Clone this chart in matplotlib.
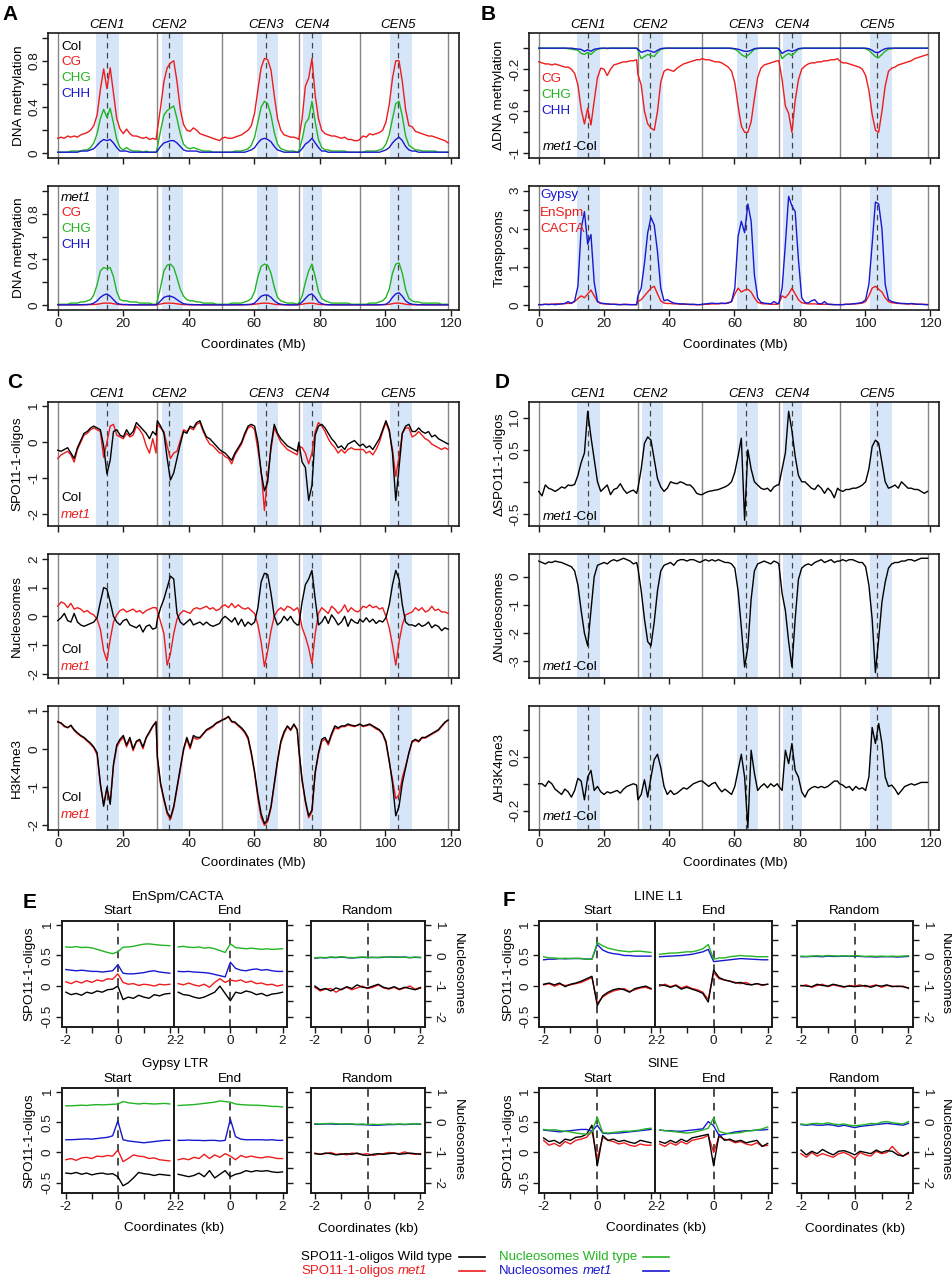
import numpy as np
import matplotlib
matplotlib.use("Agg")
import matplotlib.pyplot as plt
from matplotlib.lines import Line2D

plt.rcParams['font.family'] = ['Liberation Sans', 'DejaVu Sans']
plt.rcParams['axes.unicode_minus'] = False

# ---------------- genome layout ----------------
chrom_offsets = [0.0, 30.4, 50.1, 73.6, 92.2]
chrom_bounds = [0.0, 30.4, 50.1, 73.6, 92.2, 119.2]
cen_pos = [15.1, 34.0, 63.6, 77.5, 103.8]
cen_names = ['CEN1', 'CEN2', 'CEN3', 'CEN4', 'CEN5']
peri_start = [11.8, 31.8, 60.7, 74.9, 101.4]
peri_end = [18.7, 38.2, 67.3, 80.7, 108.2]
genome_ticks = [0, 20, 40, 60, 80, 100, 120]

# ---------------- A: DNA methylation (per chromosome, 1 Mb steps) ----------------
col_cg = [
    [0.13,0.14,0.13,0.15,0.14,0.15,0.14,0.16,0.17,0.18,0.2,0.24,0.33,0.55,0.73,0.56,0.74,0.52,0.3,0.21,0.17,0.21,0.17,0.15,0.15,0.14,0.13,0.14,0.12,0.13,0.12],
    [0.2,0.4,0.62,0.74,0.78,0.8,0.62,0.38,0.25,0.2,0.19,0.22,0.2,0.17,0.16,0.15,0.14,0.13,0.12,0.11],
    [0.13,0.14,0.13,0.13,0.14,0.15,0.16,0.18,0.2,0.24,0.35,0.55,0.74,0.82,0.81,0.72,0.5,0.3,0.2,0.16,0.15,0.14,0.14,0.13],
    [0.12,0.3,0.58,0.65,0.82,0.5,0.3,0.2,0.17,0.16,0.15,0.15,0.14,0.13,0.14,0.12,0.12,0.11,0.11],
    [0.12,0.15,0.14,0.17,0.16,0.17,0.18,0.2,0.27,0.42,0.65,0.8,0.8,0.62,0.38,0.24,0.23,0.19,0.18,0.17,0.16,0.15,0.15,0.14,0.13,0.12,0.11,0.09]]
col_chg = [
    [0.01,0.01,0.01,0.01,0.02,0.02,0.02,0.02,0.03,0.03,0.05,0.09,0.17,0.3,0.38,0.31,0.39,0.26,0.12,0.05,0.03,0.05,0.03,0.02,0.02,0.02,0.01,0.02,0.01,0.01,0.01],
    [0.05,0.2,0.33,0.37,0.39,0.41,0.3,0.17,0.08,0.05,0.04,0.05,0.04,0.03,0.02,0.02,0.02,0.01,0.01,0.01],
    [0.01,0.01,0.01,0.01,0.02,0.02,0.02,0.03,0.04,0.07,0.14,0.27,0.4,0.45,0.43,0.33,0.18,0.08,0.04,0.03,0.02,0.02,0.02,0.01],
    [0.02,0.12,0.26,0.3,0.45,0.27,0.12,0.05,0.03,0.03,0.02,0.02,0.02,0.02,0.02,0.01,0.01,0.01,0.01],
    [0.01,0.01,0.02,0.02,0.02,0.02,0.03,0.04,0.08,0.16,0.3,0.43,0.45,0.32,0.15,0.07,0.05,0.03,0.03,0.02,0.02,0.02,0.02,0.02,0.01,0.01,0.01,0.01]]
col_chh = [
    [0.01,0.01,0.01,0.01,0.01,0.01,0.01,0.02,0.02,0.02,0.03,0.04,0.07,0.1,0.12,0.11,0.12,0.09,0.05,0.02,0.02,0.02,0.01,0.01,0.01,0.01,0.01,0.01,0.01,0.01,0.01],
    [0.02,0.06,0.09,0.1,0.11,0.11,0.09,0.06,0.03,0.02,0.02,0.02,0.02,0.01,0.01,0.01,0.01,0.01,0.01,0.01],
    [0.01,0.01,0.01,0.01,0.01,0.01,0.01,0.01,0.02,0.03,0.05,0.09,0.12,0.13,0.12,0.1,0.06,0.03,0.02,0.01,0.01,0.01,0.01,0.01],
    [0.01,0.04,0.08,0.1,0.13,0.09,0.05,0.02,0.02,0.01,0.01,0.01,0.01,0.01,0.01,0.01,0.01,0.01,0.01],
    [0.01,0.01,0.01,0.01,0.01,0.01,0.01,0.02,0.03,0.05,0.09,0.12,0.14,0.11,0.06,0.03,0.02,0.02,0.01,0.01,0.01,0.01,0.01,0.01,0.01,0.01,0.01,0.01]]
met1_cg = [
    [0.005,0.005,0.005,0.005,0.005,0.005,0.005,0.005,0.005,0.006,0.007,0.008,0.01,0.015,0.02,0.02,0.02,0.015,0.01,0.007,0.006,0.006,0.005,0.005,0.005,0.005,0.005,0.005,0.005,0.005,0.005],
    [0.008,0.012,0.018,0.02,0.02,0.018,0.014,0.01,0.007,0.006,0.005,0.005,0.005,0.005,0.005,0.005,0.005,0.005,0.005,0.005],
    [0.005,0.005,0.005,0.005,0.005,0.005,0.005,0.005,0.006,0.007,0.01,0.014,0.018,0.02,0.019,0.016,0.01,0.007,0.006,0.005,0.005,0.005,0.005,0.005],
    [0.006,0.01,0.016,0.018,0.02,0.015,0.01,0.007,0.006,0.005,0.005,0.005,0.005,0.005,0.005,0.005,0.005,0.005,0.005],
    [0.005,0.005,0.005,0.005,0.005,0.005,0.005,0.006,0.007,0.01,0.015,0.02,0.02,0.016,0.01,0.007,0.006,0.005,0.005,0.005,0.005,0.005,0.005,0.005,0.005,0.005,0.005,0.005]]
met1_chg = [
    [0.01,0.01,0.01,0.01,0.02,0.02,0.02,0.03,0.03,0.04,0.05,0.09,0.18,0.3,0.33,0.32,0.33,0.25,0.12,0.05,0.04,0.04,0.03,0.03,0.03,0.02,0.02,0.02,0.02,0.01,0.01],
    [0.04,0.16,0.3,0.35,0.36,0.33,0.24,0.14,0.08,0.05,0.04,0.04,0.03,0.03,0.02,0.02,0.02,0.02,0.01,0.01],
    [0.01,0.01,0.01,0.02,0.02,0.02,0.02,0.03,0.04,0.06,0.12,0.25,0.34,0.36,0.35,0.28,0.16,0.07,0.04,0.03,0.02,0.02,0.02,0.01],
    [0.02,0.08,0.2,0.3,0.36,0.25,0.12,0.06,0.04,0.03,0.02,0.02,0.02,0.02,0.02,0.02,0.01,0.01,0.01],
    [0.01,0.01,0.01,0.02,0.02,0.02,0.03,0.04,0.07,0.14,0.28,0.36,0.37,0.28,0.14,0.06,0.04,0.03,0.03,0.02,0.02,0.02,0.02,0.02,0.02,0.01,0.01,0.01]]
met1_chh = [
    [0.005,0.005,0.005,0.005,0.005,0.005,0.006,0.006,0.007,0.008,0.01,0.02,0.04,0.07,0.09,0.1,0.08,0.05,0.02,0.01,0.008,0.008,0.006,0.006,0.005,0.005,0.005,0.005,0.005,0.005,0.005],
    [0.01,0.04,0.07,0.08,0.08,0.07,0.05,0.03,0.015,0.01,0.008,0.007,0.006,0.006,0.005,0.005,0.005,0.005,0.005,0.005],
    [0.005,0.005,0.005,0.005,0.005,0.006,0.006,0.007,0.008,0.01,0.02,0.05,0.08,0.09,0.09,0.07,0.04,0.02,0.01,0.007,0.006,0.005,0.005,0.005],
    [0.01,0.03,0.06,0.09,0.1,0.07,0.03,0.015,0.008,0.006,0.006,0.005,0.005,0.005,0.005,0.005,0.005,0.005,0.005],
    [0.005,0.005,0.005,0.005,0.005,0.005,0.006,0.007,0.01,0.03,0.07,0.1,0.11,0.08,0.04,0.02,0.01,0.008,0.006,0.006,0.005,0.005,0.005,0.005,0.005,0.005,0.005,0.005]]

# ---------------- B: delta methylation and transposons ----------------
delta_cg = [
    [-0.13,-0.14,-0.15,-0.15,-0.16,-0.15,-0.16,-0.17,-0.18,-0.18,-0.2,-0.24,-0.35,-0.58,-0.72,-0.57,-0.73,-0.5,-0.28,-0.19,-0.2,-0.26,-0.2,-0.16,-0.15,-0.14,-0.13,-0.13,-0.12,-0.12,-0.11],
    [-0.25,-0.35,-0.6,-0.72,-0.76,-0.78,-0.6,-0.32,-0.22,-0.2,-0.21,-0.22,-0.19,-0.17,-0.15,-0.14,-0.13,-0.12,-0.11,-0.11],
    [-0.1,-0.11,-0.11,-0.12,-0.13,-0.13,-0.14,-0.16,-0.18,-0.22,-0.33,-0.55,-0.74,-0.8,-0.8,-0.7,-0.48,-0.28,-0.19,-0.16,-0.15,-0.14,-0.13,-0.12],
    [-0.12,-0.3,-0.55,-0.62,-0.8,-0.5,-0.3,-0.2,-0.17,-0.15,-0.14,-0.14,-0.13,-0.13,-0.12,-0.12,-0.11,-0.11,-0.1],
    [-0.12,-0.14,-0.14,-0.15,-0.16,-0.17,-0.18,-0.2,-0.26,-0.4,-0.63,-0.78,-0.8,-0.6,-0.36,-0.22,-0.19,-0.18,-0.16,-0.15,-0.14,-0.13,-0.12,-0.1,-0.09,-0.08,-0.07,-0.06]]
delta_chg = [
    [0,0,0,0,0,0,0,0,0,-0.005,-0.01,-0.015,-0.02,-0.05,-0.06,-0.04,-0.06,-0.03,-0.01,-0.005,0,-0.005,0,0,0,0,0,0,0,0,0],
    [-0.02,-0.1,-0.08,-0.06,-0.07,-0.08,-0.04,-0.01,-0.005,0,0,0,0,0,0,0,0,0,0,0],
    [0,0,0,0,0,0,0,0,0,-0.005,-0.01,-0.03,-0.06,-0.08,-0.07,-0.04,-0.01,-0.005,0,0,0,0,0,0],
    [-0.01,-0.1,-0.07,-0.05,-0.07,-0.04,-0.01,-0.005,0,0,0,0,0,0,0,0,0,0,0],
    [0,0,0,0,0,0,0,0,-0.005,-0.02,-0.05,-0.08,-0.09,-0.06,-0.03,-0.01,-0.005,0,0,0,0,0,0,0,0,0,0,0]]
delta_chh = [
    [0,0,0,0,0,0,0,0,0,0,0,-0.005,-0.008,-0.012,-0.03,-0.015,-0.03,-0.01,-0.005,0,0,0,0,0,0,0,0,0,0,0,0],
    [-0.01,-0.04,-0.03,-0.02,-0.03,-0.04,-0.02,-0.005,0,0,0,0,0,0,0,0,0,0,0,0],
    [0,0,0,0,0,0,0,0,0,0,-0.005,-0.01,-0.02,-0.03,-0.03,-0.02,-0.005,0,0,0,0,0,0,0],
    [-0.005,-0.05,-0.03,-0.02,-0.03,-0.02,-0.005,0,0,0,0,0,0,0,0,0,0,0,0],
    [0,0,0,0,0,0,0,0,0,-0.005,-0.02,-0.04,-0.04,-0.02,-0.005,0,0,0,0,0,0,0,0,0,0,0,0,0]]
gypsy = [
    [0.02,0.02,0.03,0.02,0.03,0.02,0.03,0.04,0.05,0.1,0.05,0.12,0.5,2.0,2.45,1.6,1.85,0.6,0.1,0.06,0.05,0.04,0.03,0.03,0.02,0.02,0.03,0.02,0.02,0.02,0.02],
    [0.25,0.45,1.1,1.9,2.3,2.1,1.4,0.45,0.12,0.15,0.1,0.06,0.05,0.04,0.04,0.03,0.03,0.03,0.02,0.02],
    [0.03,0.04,0.05,0.06,0.05,0.05,0.06,0.05,0.07,0.1,0.45,1.8,2.2,1.9,2.65,2.2,0.8,0.2,0.08,0.06,0.05,0.04,0.1,0.05],
    [0.05,0.45,1.6,2.85,2.6,2.45,1.2,0.2,0.08,0.06,0.12,0.15,0.05,0.04,0.1,0.03,0.03,0.02,0.02],
    [0.02,0.02,0.03,0.03,0.04,0.05,0.06,0.08,0.15,0.55,1.6,2.7,2.65,2.0,0.55,0.15,0.1,0.08,0.06,0.05,0.05,0.04,0.05,0.04,0.03,0.03,0.02,0.02]]
enspm = [
    [0.02,0.02,0.03,0.03,0.03,0.04,0.04,0.04,0.05,0.05,0.06,0.1,0.18,0.25,0.2,0.3,0.4,0.25,0.1,0.05,0.04,0.04,0.03,0.03,0.03,0.02,0.02,0.03,0.02,0.02,0.02],
    [0.1,0.15,0.25,0.35,0.45,0.5,0.3,0.12,0.06,0.05,0.05,0.04,0.04,0.03,0.03,0.03,0.02,0.02,0.02,0.02],
    [0.02,0.03,0.03,0.04,0.04,0.04,0.05,0.05,0.06,0.1,0.3,0.45,0.35,0.4,0.42,0.35,0.2,0.08,0.05,0.04,0.04,0.03,0.03,0.03],
    [0.05,0.25,0.2,0.3,0.45,0.3,0.15,0.07,0.05,0.04,0.04,0.04,0.03,0.03,0.03,0.03,0.02,0.02,0.02],
    [0.02,0.02,0.03,0.03,0.04,0.04,0.05,0.06,0.1,0.25,0.45,0.5,0.42,0.35,0.2,0.1,0.07,0.06,0.05,0.05,0.04,0.04,0.04,0.03,0.03,0.03,0.03,0.02]]

# ---------------- C: SPO11-1-oligos, nucleosomes, H3K4me3 ----------------
spo_col = [
    [-0.22,-0.25,-0.2,-0.15,-0.3,-0.45,-0.15,0.05,0.25,0.3,0.4,0.45,0.4,0.35,-0.1,-0.88,-0.5,0.3,0.35,0.2,0.15,0.35,0.2,0.3,0.55,0.45,0.35,0.25,0.1,0.3,0.2],
    [0.6,0.45,0.25,-0.45,-1.05,-0.85,-0.45,-0.05,0.3,0.25,0.45,0.4,0.55,0.6,0.35,0.15,0.1,0.0,-0.1,-0.2],
    [-0.25,-0.3,-0.4,-0.5,-0.3,-0.15,0.0,0.25,0.45,0.5,0.45,0.0,-0.85,-1.35,-1.1,-0.1,0.5,0.25,0.1,0.0,-0.1,-0.15,-0.2,-0.25],
    [0.0,-0.55,-0.7,-1.62,-1.2,0.2,0.45,0.5,0.4,0.25,0.1,0.0,-0.15,-0.1,-0.2,-0.05,0.0,0.05,-0.05],
    [-0.1,-0.05,-0.15,-0.1,-0.2,-0.05,0.1,0.35,0.6,0.35,-0.3,-1.62,-0.7,0.25,0.45,0.5,0.3,0.3,0.4,0.3,0.25,0.3,0.15,0.2,0.1,0.05,0.0,-0.05]]
spo_met1 = [
    [-0.45,-0.35,-0.3,-0.25,-0.35,-0.55,-0.2,0.0,0.2,0.25,0.35,0.4,0.35,0.3,-0.42,0.0,0.45,0.5,0.2,0.15,0.1,0.25,0.15,0.2,0.45,0.35,0.2,-0.1,-0.3,0.1,-0.3],
    [0.5,0.4,0.3,-0.1,-0.45,-0.3,-0.25,0.05,0.35,0.3,0.4,0.35,0.5,0.55,0.3,0.1,-0.05,-0.1,-0.2,-0.3],
    [-0.3,-0.4,-0.45,-0.6,-0.35,-0.2,-0.05,0.2,0.4,0.45,0.35,-0.2,-0.8,-1.9,-0.9,-0.2,0.4,0.2,0.0,-0.1,-0.2,-0.25,-0.3,-0.35],
    [-0.1,-0.15,-0.3,-0.6,-0.3,0.3,0.55,0.45,0.3,0.1,-0.05,-0.15,-0.3,-0.2,-0.3,-0.2,-0.15,-0.2,-0.2],
    [-0.2,-0.2,-0.3,-0.25,-0.35,-0.2,0.0,0.3,0.55,0.3,-0.2,-0.95,-0.4,0.25,0.4,0.4,0.15,0.2,0.3,0.2,0.1,0.05,-0.05,-0.1,-0.15,-0.2,-0.15,-0.2]]
nuc_col = [
    [-0.15,-0.05,0.1,-0.15,-0.2,0.1,-0.2,-0.3,-0.35,-0.3,-0.25,-0.2,-0.05,0.5,1.0,0.95,0.5,0.0,-0.2,-0.3,-0.15,-0.1,-0.3,-0.35,-0.4,-0.3,-0.55,-0.35,-0.3,-0.45,-0.4],
    [-0.1,0.3,0.6,1.0,1.4,1.3,0.1,-0.2,-0.3,-0.2,-0.1,-0.3,-0.25,-0.2,-0.3,-0.2,-0.3,-0.35,-0.3,-0.25],
    [-0.1,0.0,-0.1,-0.2,-0.05,-0.3,-0.1,-0.35,-0.2,-0.3,-0.2,0.3,1.2,1.5,1.45,0.8,0.0,-0.3,-0.2,0.0,-0.15,0.0,-0.2,-0.3],
    [-0.3,0.5,1.1,1.3,1.6,0.6,-0.3,-0.2,0.0,-0.25,0.05,-0.1,-0.3,-0.2,0.0,-0.35,-0.1,-0.2,-0.25],
    [-0.1,-0.2,-0.05,-0.2,-0.1,-0.25,-0.15,-0.2,-0.05,0.4,1.1,1.6,1.3,0.4,-0.2,-0.3,-0.3,-0.35,-0.25,-0.35,-0.3,-0.2,-0.4,-0.3,-0.35,-0.5,-0.4,-0.45]]
nuc_met1 = [
    [0.35,0.5,0.45,0.3,0.45,0.25,0.3,0.25,0.15,0.2,0.1,0.05,-0.1,-0.45,-1.2,-1.55,-0.8,-0.2,0.05,0.2,0.25,0.15,0.2,0.25,0.15,0.2,0.1,0.2,0.25,0.3,0.3],
    [0.2,-0.2,-0.6,-1.7,-1.3,-0.6,-0.1,0.1,0.2,0.15,0.1,0.25,0.3,0.25,0.3,0.35,0.25,0.3,0.2,0.25],
    [0.35,0.4,0.3,0.45,0.3,0.4,0.3,0.25,0.3,0.2,0.1,-0.3,-0.9,-1.75,-1.2,-0.5,0.0,0.2,0.3,0.2,0.35,0.3,0.2,0.3],
    [0.2,-0.4,-0.7,-1.1,-1.65,-0.6,0.1,0.3,0.2,0.1,0.35,0.25,0.1,0.2,0.4,0.15,0.3,0.2,0.15],
    [0.2,0.35,0.3,0.4,0.3,0.35,0.25,0.3,0.0,-0.4,-1.0,-1.7,-0.9,-0.3,0.05,0.1,0.15,0.3,0.2,0.3,0.15,0.2,0.35,0.2,0.25,0.15,0.15,0.1]]
h3_col = [
    [0.7,0.68,0.6,0.55,0.62,0.5,0.42,0.35,0.3,0.22,0.15,0.05,-0.1,-0.9,-1.5,-1.0,-1.45,-0.4,0.1,0.25,0.35,0.1,0.3,0.0,0.2,0.25,0.05,0.3,0.45,0.6,0.7],
    [-0.2,-0.9,-1.3,-1.65,-1.8,-1.5,-1.0,-0.5,0.0,0.3,0.05,0.35,0.3,0.3,0.4,0.5,0.55,0.6,0.68,0.72],
    [0.75,0.78,0.85,0.72,0.7,0.62,0.55,0.45,0.3,-0.1,-0.6,-1.2,-1.7,-1.95,-1.85,-1.5,-0.9,-0.3,0.2,0.45,0.6,0.5,0.65,0.5],
    [0.0,-0.8,-1.35,-1.75,-1.6,-0.6,-0.1,0.25,0.3,0.15,0.4,0.6,0.55,0.6,0.6,0.65,0.62,0.6,0.62],
    [0.65,0.6,0.62,0.65,0.6,0.55,0.5,0.4,0.2,-0.3,-0.9,-1.75,-1.5,-0.9,-0.5,-0.1,0.2,0.25,0.2,0.3,0.3,0.35,0.4,0.45,0.5,0.6,0.7,0.75]]
h3_met1 = [
    [0.72,0.66,0.58,0.56,0.6,0.48,0.4,0.33,0.28,0.2,0.12,0.02,-0.15,-0.95,-1.45,-1.05,-1.4,-0.45,0.05,0.2,0.3,0.05,0.25,-0.05,0.18,0.22,0.0,0.28,0.42,0.58,0.72],
    [-0.25,-0.95,-1.35,-1.7,-1.85,-1.55,-1.05,-0.55,-0.05,0.25,0.0,0.3,0.25,0.28,0.38,0.48,0.52,0.58,0.66,0.7],
    [0.75,0.8,0.83,0.7,0.68,0.6,0.52,0.42,0.25,-0.15,-0.65,-1.3,-1.8,-2.0,-1.9,-1.55,-0.95,-0.35,0.15,0.4,0.58,0.48,0.62,0.5],
    [-0.05,-0.85,-1.4,-1.8,-1.65,-0.65,-0.15,0.2,0.25,0.1,0.35,0.55,0.52,0.58,0.58,0.62,0.6,0.58,0.62],
    [0.64,0.58,0.6,0.63,0.58,0.52,0.48,0.38,0.15,-0.35,-0.8,-1.3,-1.2,-0.75,-0.45,-0.12,0.18,0.22,0.18,0.28,0.28,0.33,0.38,0.43,0.48,0.58,0.68,0.76]]

# ---------------- D: met1 - Col differences ----------------
delta_spo = [
    [-0.15,-0.22,-0.05,-0.1,-0.12,-0.15,-0.12,-0.08,-0.1,-0.05,-0.06,-0.04,0.1,0.3,0.45,1.1,0.7,0.35,0.0,-0.15,-0.1,-0.05,-0.2,-0.12,-0.1,-0.03,-0.12,-0.18,-0.15,-0.13,-0.18],
    [-0.1,0.2,0.6,0.7,0.65,0.35,0.05,-0.08,-0.15,-0.1,0.0,-0.02,-0.03,0.0,-0.02,-0.05,-0.05,-0.1,-0.18,-0.2],
    [-0.2,-0.17,-0.15,-0.14,-0.13,-0.12,-0.1,-0.08,-0.05,0.0,0.15,0.4,0.68,-0.6,0.5,0.2,0.0,-0.05,-0.1,-0.12,-0.1,-0.15,-0.08,-0.05],
    [-0.05,0.2,0.45,1.1,0.8,0.4,0.1,0.0,0.0,-0.05,-0.1,-0.12,-0.05,-0.1,-0.18,-0.1,-0.15,-0.25,-0.1],
    [-0.13,-0.15,-0.12,-0.12,-0.1,-0.1,-0.08,-0.05,0.0,0.2,0.55,0.65,0.6,0.3,0.0,-0.1,-0.08,-0.05,-0.1,0.0,-0.05,-0.1,-0.1,-0.12,-0.12,-0.15,-0.18,-0.15]]
delta_nuc = [
    [0.55,0.5,0.45,0.52,0.5,0.55,0.52,0.5,0.45,0.4,0.35,0.2,-0.3,-1.2,-2.0,-2.45,-1.2,0.0,0.4,0.45,0.5,0.45,0.55,0.6,0.55,0.6,0.65,0.6,0.55,0.45,0.5],
    [0.3,-0.5,-1.5,-2.3,-2.45,-1.6,-0.5,0.2,0.4,0.45,0.5,0.4,0.55,0.6,0.6,0.55,0.6,0.6,0.55,0.5],
    [0.55,0.6,0.55,0.6,0.55,0.6,0.55,0.5,0.5,0.45,0.3,-0.5,-1.8,-3.2,-2.5,-0.8,0.2,0.45,0.5,0.55,0.5,0.45,0.55,0.5],
    [0.45,-0.6,-1.2,-2.3,-3.2,-1.5,-0.1,0.3,0.4,0.45,0.4,0.5,0.55,0.6,0.5,0.55,0.6,0.5,0.55],
    [0.55,0.6,0.55,0.6,0.6,0.55,0.5,0.5,0.35,-0.3,-1.5,-3.4,-2.2,-0.9,-0.2,0.3,0.45,0.5,0.5,0.55,0.55,0.6,0.6,0.55,0.6,0.65,0.65,0.65]]
delta_h3 = [
    [0.0,0.0,-0.02,0.02,0.0,-0.04,-0.06,-0.08,-0.04,-0.06,-0.1,-0.05,0.04,0.02,-0.12,0.05,0.1,-0.05,-0.02,-0.06,-0.08,-0.06,-0.07,-0.06,-0.05,-0.07,-0.04,-0.02,-0.01,0.0,-0.01],
    [-0.12,-0.08,0.03,-0.1,0.05,0.18,0.22,0.12,-0.02,-0.08,-0.05,-0.08,-0.07,-0.05,-0.03,-0.04,-0.02,0.0,0.01,0.02],
    [0.02,0.0,-0.02,0.0,0.01,-0.03,-0.06,-0.04,-0.06,-0.08,-0.02,0.1,0.22,0.05,-0.33,0.25,0.08,-0.05,-0.02,0.0,-0.03,0.0,-0.02,0.0],
    [-0.02,-0.05,0.25,0.15,0.3,0.1,0.05,-0.06,-0.1,-0.05,-0.03,-0.02,-0.03,-0.02,-0.03,-0.02,0.0,0.02,0.02],
    [0.0,-0.01,-0.03,-0.02,-0.05,-0.02,-0.04,-0.03,-0.05,0.05,0.42,0.3,0.45,0.3,0.05,-0.02,-0.01,-0.04,-0.08,-0.05,-0.02,-0.01,0.0,-0.01,0.0,0.01,0.01,0.01]]

# ---------------- E/F: metaprofiles (kb) ----------------
kb = [-2.0,-1.8,-1.6,-1.4,-1.2,-1.0,-0.8,-0.6,-0.4,-0.2,0.0,0.2,0.4,0.6,0.8,1.0,1.2,1.4,1.6,1.8,2.0]

# EnSpm/CACTA
enspm_start_spo_wt = [-0.1,-0.14,-0.12,-0.15,-0.1,-0.12,-0.08,-0.1,-0.06,-0.05,0.0,-0.22,-0.18,-0.2,-0.15,-0.18,-0.2,-0.14,-0.16,-0.13,-0.12]
enspm_start_spo_m = [0.07,0.04,0.08,0.05,0.09,0.06,0.1,0.08,0.12,0.11,0.2,0.06,0.03,0.04,0.01,0.03,0.02,0.0,0.03,0.02,0.03]
enspm_start_nuc_wt = [0.28,0.27,0.29,0.26,0.27,0.25,0.2,0.15,0.1,0.06,0.12,0.27,0.28,0.3,0.34,0.37,0.38,0.36,0.34,0.33,0.32]
enspm_start_nuc_m = [-0.46,-0.48,-0.5,-0.48,-0.5,-0.52,-0.52,-0.54,-0.52,-0.5,-0.3,-0.58,-0.6,-0.6,-0.58,-0.56,-0.52,-0.5,-0.54,-0.56,-0.58]
enspm_end_spo_wt = [-0.1,-0.14,-0.15,-0.18,-0.2,-0.18,-0.14,-0.1,0.0,-0.12,-0.24,-0.1,-0.12,-0.08,-0.1,-0.14,-0.12,-0.16,-0.13,-0.12,-0.1]
enspm_end_spo_m = [0.04,0.02,0.05,0.02,0.0,0.03,-0.02,0.06,0.12,0.06,0.1,0.08,0.1,0.06,0.08,0.04,0.05,0.02,0.03,0.0,0.02]
enspm_end_nuc_wt = [0.28,0.3,0.27,0.26,0.28,0.24,0.26,0.22,0.16,0.1,0.38,0.26,0.24,0.22,0.24,0.22,0.2,0.22,0.2,0.21,0.22]
enspm_end_nuc_m = [-0.52,-0.53,-0.52,-0.54,-0.55,-0.56,-0.58,-0.62,-0.66,-0.7,-0.22,-0.42,-0.48,-0.5,-0.46,-0.44,-0.48,-0.46,-0.5,-0.52,-0.52]
enspm_rand_spo_wt = [0.0,-0.06,-0.04,-0.08,-0.03,-0.06,-0.01,-0.04,0.02,-0.02,-0.03,0.0,0.03,-0.02,-0.04,-0.01,-0.05,-0.02,-0.04,-0.06,-0.03]
enspm_rand_spo_m = [-0.02,-0.08,-0.05,-0.04,-0.1,-0.05,-0.02,-0.06,-0.03,0.0,-0.04,-0.02,0.02,-0.03,-0.05,-0.02,-0.06,-0.03,0.0,-0.05,-0.02]
enspm_rand_nuc_wt = [-0.08,-0.06,-0.07,-0.05,-0.06,-0.04,-0.06,-0.08,-0.06,-0.05,-0.06,-0.07,-0.06,-0.05,-0.06,-0.04,-0.05,-0.06,-0.07,-0.05,-0.06]
enspm_rand_nuc_m = [-0.09,-0.07,-0.08,-0.06,-0.07,-0.05,-0.07,-0.08,-0.07,-0.06,-0.07,-0.06,-0.07,-0.06,-0.05,-0.05,-0.06,-0.05,-0.07,-0.06,-0.07]

# Gypsy LTR
gypsy_start_spo_wt = [-0.34,-0.35,-0.33,-0.36,-0.34,-0.37,-0.35,-0.34,-0.36,-0.35,-0.4,-0.55,-0.5,-0.42,-0.33,-0.35,-0.36,-0.38,-0.36,-0.37,-0.38]
gypsy_start_spo_m = [-0.12,-0.1,-0.13,-0.09,-0.08,-0.1,-0.06,-0.07,-0.05,-0.06,0.04,-0.15,-0.1,-0.04,-0.06,-0.07,-0.1,-0.09,-0.12,-0.13,-0.14]
gypsy_start_nuc_wt = [0.54,0.54,0.55,0.56,0.55,0.57,0.58,0.57,0.58,0.59,0.6,0.68,0.64,0.62,0.6,0.62,0.61,0.6,0.61,0.62,0.6]
gypsy_start_nuc_m = [-0.58,-0.58,-0.57,-0.56,-0.55,-0.56,-0.54,-0.52,-0.5,-0.45,0.04,-0.58,-0.62,-0.64,-0.66,-0.68,-0.66,-0.64,-0.62,-0.6,-0.6]
gypsy_end_spo_wt = [-0.36,-0.38,-0.4,-0.38,-0.34,-0.4,-0.3,-0.42,-0.36,-0.3,-0.4,-0.36,-0.34,-0.3,-0.32,-0.3,-0.31,-0.3,-0.32,-0.33,-0.32]
gypsy_end_spo_m = [-0.12,-0.1,-0.12,-0.08,-0.1,-0.03,-0.1,-0.04,-0.08,-0.02,-0.06,-0.12,-0.05,-0.08,-0.06,-0.08,-0.09,-0.07,-0.08,-0.1,-0.1]
gypsy_end_nuc_wt = [0.55,0.56,0.57,0.58,0.6,0.62,0.64,0.66,0.7,0.68,0.66,0.6,0.58,0.57,0.56,0.56,0.55,0.54,0.52,0.52,0.5]
gypsy_end_nuc_m = [-0.6,-0.6,-0.59,-0.6,-0.6,-0.61,-0.6,-0.6,-0.62,-0.6,0.1,-0.48,-0.56,-0.58,-0.58,-0.58,-0.58,-0.59,-0.58,-0.6,-0.6]
gypsy_rand_spo_wt = [-0.02,-0.03,-0.01,-0.02,-0.04,-0.03,-0.02,-0.03,-0.01,-0.04,-0.05,-0.03,-0.02,-0.03,-0.02,-0.01,-0.03,-0.02,-0.01,-0.02,-0.03]
gypsy_rand_spo_m = [-0.01,-0.03,-0.02,0.0,-0.03,-0.02,-0.04,-0.01,-0.02,-0.03,-0.02,-0.05,-0.03,-0.02,0.0,-0.01,-0.02,0.01,-0.02,-0.03,-0.02]
gypsy_rand_nuc_wt = [-0.05,-0.06,-0.05,-0.04,-0.05,-0.06,-0.05,-0.06,-0.07,-0.06,-0.08,-0.07,-0.08,-0.07,-0.06,-0.07,-0.06,-0.07,-0.06,-0.05,-0.06]
gypsy_rand_nuc_m = [-0.07,-0.07,-0.06,-0.06,-0.07,-0.07,-0.06,-0.07,-0.08,-0.08,-0.09,-0.1,-0.1,-0.09,-0.08,-0.08,-0.07,-0.08,-0.07,-0.06,-0.07]

# LINE L1
line_start_spo_wt = [0.03,0.05,0.02,0.05,-0.01,0.03,0.05,0.08,0.12,0.16,-0.32,-0.16,-0.1,-0.06,-0.04,-0.06,-0.1,-0.04,-0.02,0.0,-0.04]
line_start_spo_m = [0.02,0.04,0.0,0.03,0.01,0.02,0.04,0.06,0.1,0.14,-0.28,-0.18,-0.12,-0.08,-0.06,-0.04,-0.09,-0.06,-0.03,-0.02,-0.05]
line_start_nuc_wt = [-0.04,-0.08,-0.08,-0.1,-0.09,-0.1,-0.09,-0.1,-0.12,-0.12,0.42,0.32,0.24,0.2,0.16,0.14,0.12,0.14,0.14,0.12,0.1]
line_start_nuc_m = [-0.14,-0.12,-0.12,-0.1,-0.11,-0.1,-0.1,-0.1,-0.12,-0.12,0.36,0.18,0.1,0.06,0.04,0.0,0.0,-0.02,-0.02,-0.02,-0.02]
line_end_spo_wt = [0.02,0.01,-0.02,0.01,-0.05,-0.02,-0.05,-0.08,-0.12,-0.26,0.26,0.14,0.1,0.08,0.05,0.06,0.03,0.02,0.04,0.02,0.03]
line_end_spo_m = [0.0,0.03,-0.01,0.02,-0.03,0.0,-0.04,-0.06,-0.1,-0.22,0.22,0.12,0.1,0.08,0.06,0.04,0.06,0.02,0.04,0.01,0.03]
line_end_nuc_wt = [0.04,0.06,0.08,0.08,0.1,0.12,0.12,0.16,0.22,0.36,-0.12,-0.08,-0.08,-0.04,-0.02,0.0,-0.02,-0.02,-0.04,-0.04,-0.04]
line_end_nuc_m = [-0.04,-0.03,-0.02,-0.01,0.0,0.02,0.04,0.08,0.12,0.2,-0.2,-0.18,-0.16,-0.14,-0.12,-0.1,-0.11,-0.12,-0.13,-0.14,-0.14]
line_rand_spo_wt = [0.01,0.0,-0.01,0.03,0.01,0.0,0.03,0.01,-0.01,0.0,-0.01,0.0,0.01,-0.02,0.01,0.0,0.02,-0.01,0.0,-0.01,-0.03]
line_rand_spo_m = [0.0,0.02,-0.02,0.01,0.03,-0.01,0.02,0.0,-0.02,0.01,0.0,0.02,-0.01,0.0,0.02,-0.02,0.01,0.0,-0.01,0.0,-0.04]
line_rand_nuc_wt = [-0.02,-0.03,-0.02,-0.01,-0.02,0.0,-0.01,-0.02,-0.01,-0.02,0.0,-0.02,-0.03,-0.02,-0.03,-0.02,-0.03,-0.02,-0.03,-0.02,-0.01]
line_rand_nuc_m = [-0.04,-0.04,-0.03,-0.03,-0.04,-0.02,-0.03,-0.03,-0.02,-0.03,-0.02,-0.03,-0.04,-0.04,-0.05,-0.04,-0.04,-0.04,-0.05,-0.04,-0.03]

# SINE
sine_start_spo_wt = [0.24,0.18,0.2,0.15,0.22,0.2,0.25,0.26,0.3,0.45,-0.22,0.28,0.2,0.22,0.18,0.2,0.17,0.15,0.2,0.18,0.16]
sine_start_spo_m = [0.2,0.12,0.15,0.1,0.18,0.14,0.2,0.22,0.25,0.35,-0.1,0.25,0.2,0.18,0.14,0.16,0.12,0.1,0.14,0.12,0.12]
sine_start_nuc_wt = [-0.24,-0.26,-0.25,-0.28,-0.3,-0.32,-0.36,-0.38,-0.4,-0.32,0.16,-0.34,-0.36,-0.34,-0.32,-0.3,-0.3,-0.28,-0.26,-0.22,-0.2]
sine_start_nuc_m = [-0.26,-0.28,-0.3,-0.32,-0.3,-0.28,-0.26,-0.24,-0.24,-0.3,-0.1,-0.36,-0.38,-0.36,-0.36,-0.34,-0.32,-0.3,-0.28,-0.26,-0.24]
sine_end_spo_wt = [0.18,0.15,0.2,0.16,0.22,0.18,0.24,0.26,0.28,0.3,-0.22,0.3,0.2,0.22,0.18,0.2,0.16,0.18,0.2,0.1,0.15]
sine_end_spo_m = [0.14,0.1,0.16,0.12,0.18,0.14,0.2,0.22,0.24,0.28,0.0,0.26,0.22,0.2,0.16,0.18,0.14,0.12,0.16,0.1,0.12]
sine_end_nuc_wt = [-0.26,-0.28,-0.3,-0.32,-0.34,-0.36,-0.34,-0.3,-0.26,-0.2,0.14,-0.3,-0.36,-0.38,-0.36,-0.34,-0.3,-0.28,-0.26,-0.22,-0.16]
sine_end_nuc_m = [-0.26,-0.28,-0.28,-0.3,-0.3,-0.28,-0.26,-0.24,-0.22,0.02,-0.12,-0.44,-0.4,-0.36,-0.32,-0.3,-0.28,-0.28,-0.26,-0.26,-0.24]
sine_rand_spo_wt = [0.04,-0.04,0.02,-0.02,0.05,0.0,-0.04,0.02,0.03,0.0,-0.04,0.02,0.0,-0.02,0.04,0.0,0.03,0.02,-0.04,-0.06,0.0]
sine_rand_spo_m = [-0.02,-0.08,0.0,-0.06,-0.02,-0.05,-0.08,-0.02,0.0,-0.04,-0.1,0.0,-0.04,-0.06,0.02,-0.02,0.0,0.1,0.0,-0.06,-0.02]
sine_rand_nuc_wt = [-0.06,-0.08,-0.05,-0.04,-0.06,-0.02,-0.06,-0.08,-0.06,-0.1,-0.12,-0.1,-0.08,-0.04,-0.06,0.0,0.02,-0.02,-0.04,-0.06,0.02]
sine_rand_nuc_m = [-0.08,-0.1,-0.08,-0.1,-0.1,-0.08,-0.1,-0.14,-0.1,-0.14,-0.18,-0.14,-0.12,-0.1,-0.08,-0.06,-0.04,-0.06,-0.08,-0.1,-0.04]

# ---------------- styling ----------------
RED = '#ee1c1c'
GREEN = '#22b422'
BLUE = '#1818d0'
BLACK = '#000000'
SHADE = '#d6e6f8'
FS = 9.7
TICK_FS = 9.7

W, H = 952, 1280
fig = plt.figure(figsize=(W / 100, H / 100), dpi=100)
renderer = fig.canvas.get_renderer()


def add_ax(x0, y0, x1, y1):
    return fig.add_axes([x0 / W, 1 - y1 / H, (x1 - x0) / W, (y1 - y0) / H])


def ftext(x, y, s, **kw):
    kw.setdefault('fontsize', FS)
    return fig.text(x / W, 1 - y / H, s, **kw)


def rich(x, y, parts, fs=FS):
    for s, style, color in parts:
        if s == ' ':
            x += 0.278 * fs * 100 / 72
            continue
        t = ftext(x, y, s, fontsize=fs, style=style, color=color, ha='left', va='center')
        x += t.get_window_extent(renderer).width
    return x


def style_axes(ax):
    for sp in ax.spines.values():
        sp.set_linewidth(1.2)
        sp.set_color('#1a1a1a')
    ax.tick_params(direction='out', length=4.5, width=1.0, colors='#1a1a1a',
                   labelsize=TICK_FS, pad=1.2)


def genome_line(ax, series, color, lw=1.0, z=3):
    xs, ys = [], []
    for off, chunk in zip(chrom_offsets, series):
        for i, v in enumerate(chunk):
            xs.append(off + i)
            ys.append(v)
    ax.plot(xs, ys, color=color, lw=lw, zorder=z)


def genome_ax(x0, x1, y0, y1, ylim, yticks, ylabels, ylabel, ylabel_x,
              xlabels=False, cen=False):
    ax = add_ax(x0, y0, x1, y1)
    ax.set_xlim(-2.9, 122.6)
    ax.set_ylim(*ylim)
    for s, e in zip(peri_start, peri_end):
        ax.axvspan(s, e, color=SHADE, lw=0, zorder=0)
    for b in chrom_bounds:
        ax.axvline(b, color='#858585', lw=1.0, zorder=1)
    for c in cen_pos:
        ax.axvline(c, color='#444444', lw=0.9, dashes=(4.5, 3.5), zorder=1)
    ax.set_xticks(genome_ticks)
    ax.set_xticklabels([str(t) for t in genome_ticks] if xlabels else [])
    ax.set_yticks(yticks)
    ax.set_yticklabels(ylabels, rotation=90, va='center')
    style_axes(ax)
    ftext(ylabel_x, (y0 + y1) / 2, ylabel, rotation=90, ha='center', va='center')
    if cen:
        for c, n in zip(cen_pos, cen_names):
            ax.annotate(n, xy=(c, 1), xycoords=('data', 'axes fraction'),
                        xytext=(0, 1.5), textcoords='offset points', ha='center',
                        va='bottom', style='italic', fontsize=9.5)
    return ax


LX0, LX1 = 48.3, 459.3
RX0, RX1 = 529.3, 938.7

# ---- Panel A ----
ax = genome_ax(LX0, LX1, 33, 158, (-0.04, 1.04), [0, 0.2, 0.4, 0.6, 0.8, 1.0],
               ['0', '', '0.4', '', '0.8', ''], 'DNA methylation', 19.5, cen=True)
genome_line(ax, col_cg, RED)
genome_line(ax, col_chg, GREEN)
genome_line(ax, col_chh, BLUE)
for s, col, yy in [('Col', BLACK, 46.5), ('CG', RED, 62), ('CHG', GREEN, 78), ('CHH', BLUE, 94)]:
    ftext(61, yy, s, color=col, ha='left', va='center')

ax = genome_ax(LX0, LX1, 186, 310, (-0.04, 1.04), [0, 0.2, 0.4, 0.6, 0.8, 1.0],
               ['0', '', '0.4', '', '0.8', ''], 'DNA methylation', 19.5, xlabels=True)
genome_line(ax, met1_cg, RED)
genome_line(ax, met1_chg, GREEN)
genome_line(ax, met1_chh, BLUE)
ftext(61, 198, 'met1', color=BLACK, style='italic', ha='left', va='center')
for s, col, yy in [('CG', RED, 213.5), ('CHG', GREEN, 229.5), ('CHH', BLUE, 245)]:
    ftext(61, yy, s, color=col, ha='left', va='center')
ftext(253.7, 345, 'Coordinates (Mb)', ha='center', va='center')

# ---- Panel B ----
ax = genome_ax(RX0, RX1, 33, 158, (-1.044, 0.144), [-1, -0.8, -0.6, -0.4, -0.2, 0],
               ['-1', '', '-0.6', '', '-0.2', ''], '\u0394DNA methylation', 499, cen=True)
genome_line(ax, delta_cg, RED)
genome_line(ax, delta_chg, GREEN)
genome_line(ax, delta_chh, BLUE)
for s, col, yy in [('CG', RED, 79), ('CHG', GREEN, 95), ('CHH', BLUE, 110.5)]:
    ftext(541, yy, s, color=col, ha='left', va='center')
rich(542.5, 146.5, [('met1', 'italic', BLACK), ('-Col', 'normal', BLACK)])

ax = genome_ax(RX0, RX1, 186, 310, (-0.12, 3.12), [0, 0.5, 1, 1.5, 2, 2.5, 3],
               ['0', '', '1', '', '2', '', '3'], 'Transposons', 500, xlabels=True)
genome_line(ax, enspm, RED)
genome_line(ax, gypsy, BLUE)
for s, col, yy in [('Gypsy', BLUE, 195), ('EnSpm', RED, 213), ('CACTA', RED, 228.5)]:
    ftext(540, yy, s, color=col, ha='left', va='center')
ftext(735.7, 345, 'Coordinates (Mb)', ha='center', va='center')

# ---- Panel C ----
ax = genome_ax(LX0, LX1, 401.7, 526, (-2.33, 1.13), [-2, -1, 0, 1],
               ['-2', '-1', '0', '1'], 'SPO11-1-oligos', 17.5, cen=True)
genome_line(ax, spo_met1, RED)
genome_line(ax, spo_col, BLACK)
ftext(61, 497.7, 'Col', ha='left', va='center')
ftext(61, 515, 'met1', color=RED, style='italic', ha='left', va='center')

ax = genome_ax(LX0, LX1, 554.3, 678.3, (-2.16, 2.16), [-2, -1, 0, 1, 2],
               ['-2', '-1', '0', '1', '2'], 'Nucleosomes', 17)
genome_line(ax, nuc_met1, RED)
genome_line(ax, nuc_col, BLACK)
ftext(61, 650, 'Col', ha='left', va='center')
ftext(61, 666.7, 'met1', color=RED, style='italic', ha='left', va='center')

ax = genome_ax(LX0, LX1, 706, 830, (-2.12, 1.12), [-2, -1, 0, 1],
               ['-2', '-1', '0', '1'], 'H3K4me3', 17, xlabels=True)
genome_line(ax, h3_met1, RED)
genome_line(ax, h3_col, BLACK)
ftext(61, 798.3, 'Col', ha='left', va='center')
ftext(61, 815, 'met1', color=RED, style='italic', ha='left', va='center')
ftext(253.7, 863, 'Coordinates (Mb)', ha='center', va='center')

# ---- Panel D ----
ax = genome_ax(RX0, RX1, 401.7, 526, (-0.69, 1.25), [-0.5, 0, 0.5, 1.0],
               ['-0.5', '', '0.5', '1.0'], '\u0394SPO11-1-oligos', 499.5, cen=True)
genome_line(ax, delta_spo, BLACK)
rich(542.5, 516.7, [('met1', 'italic', BLACK), ('-Col', 'normal', BLACK)])

ax = genome_ax(RX0, RX1, 554.3, 678.3, (-3.6, 0.79), [-3, -2, -1, 0],
               ['-3', '-2', '-1', '0'], '\u0394Nucleosomes', 499.5)
genome_line(ax, delta_nuc, BLACK)
rich(542.5, 666.7, [('met1', 'italic', BLACK), ('-Col', 'normal', BLACK)])

ax = genome_ax(RX0, RX1, 706, 830, (-0.345, 0.58), [-0.2, 0, 0.2, 0.4],
               ['-0.2', '', '0.2', ''], '\u0394H3K4me3', 499.5, xlabels=True)
genome_line(ax, delta_h3, BLACK)
rich(542.5, 817, [('met1', 'italic', BLACK), ('-Col', 'normal', BLACK)])
ftext(735.7, 863, 'Coordinates (Mb)', ha='center', va='center')

# ---- Panels E / F ----
SPO_LIM = (-0.664, 1.064)
NUC_LIM = (-2.328, 1.128)


def meta_ax(x0, x1, y0, y1, spo_wt, spo_m, nuc_wt, nuc_m, kind):
    ax = add_ax(x0, y0, x1, y1)
    ax.set_xlim(-2.16, 2.16)
    ax.set_ylim(*SPO_LIM)
    ax.axvline(0, color='#1a1a1a', lw=1.1, dashes=(5, 4), zorder=1)
    ax.plot(kb, spo_m, color=RED, lw=1.0, zorder=3)
    ax.plot(kb, spo_wt, color=BLACK, lw=1.0, zorder=4)
    tw = ax.twinx()
    tw.set_ylim(*NUC_LIM)
    tw.plot(kb, nuc_m, color=BLUE, lw=1.0)
    tw.plot(kb, nuc_wt, color=GREEN, lw=1.0)
    ax.set_xticks([-2, -1, 0, 1, 2])
    ax.set_xticklabels(['-2', '', '0', '', '2'])
    ax.set_yticks([-0.5, 0, 0.5, 1])
    ax.set_yticklabels(['-0.5', '0', '0.5', '1'], rotation=90, va='center')
    tw.set_yticks([-2, -1.5, -1, -0.5, 0, 0.5, 1])
    tw.set_yticklabels(['-2', '', '-1', '', '0', '', '1'], rotation=270, va='center')
    style_axes(ax)
    style_axes(tw)
    if kind == 'start':
        ax.tick_params(axis='y', left=True, labelleft=True)
        tw.tick_params(axis='y', right=False, labelright=False)
    elif kind == 'end':
        ax.tick_params(axis='y', left=False, labelleft=False)
        tw.tick_params(axis='y', right=True, labelright=False)
    else:
        ax.tick_params(axis='y', left=True, labelleft=False)
        tw.tick_params(axis='y', right=True, labelright=True)
    return ax


def meta_row(xs, xm, xe, xr0, xr1, y0, y1, title, title_x, sets, ylab_x, nuc_x, xlab):
    (s_wt, s_m, s_nw, s_nm), (e_wt, e_m, e_nw, e_nm), (r_wt, r_m, r_nw, r_nm) = sets
    meta_ax(xs, xm, y0, y1, s_wt, s_m, s_nw, s_nm, 'start')
    meta_ax(xm, xe, y0, y1, e_wt, e_m, e_nw, e_nm, 'end')
    meta_ax(xr0, xr1, y0, y1, r_wt, r_m, r_nw, r_nm, 'rand')
    ftext(title_x, y0 - 24, title, ha='center', va='center')
    ftext((xs + xm) / 2, y0 - 9.5, 'Start', ha='center', va='center')
    ftext((xm + xe) / 2, y0 - 9.5, 'End', ha='center', va='center')
    ftext((xr0 + xr1) / 2, y0 - 9.5, 'Random', ha='center', va='center')
    ftext(ylab_x, (y0 + y1) / 2, 'SPO11-1-oligos', rotation=90, ha='center', va='center')
    ftext(nuc_x, (y0 + y1) / 2, 'Nucleosomes', rotation=270, ha='center', va='center')
    if xlab:
        ftext((xs + xe) / 2, y1 + 35.5, 'Coordinates (kb)', ha='center', va='center')
        ftext((xr0 + xr1) / 2, y1 + 36.5, 'Coordinates (kb)', ha='center', va='center')


EX = (61.7, 174.0, 286.7, 310.7, 424.7)
FX = (539.3, 655.3, 772.0, 796.7, 912.7)
ROW1 = (921.0, 1026.7)
ROW2 = (1088.0, 1192.7)

meta_row(*EX, *ROW1, 'EnSpm/CACTA', 178,
         [(enspm_start_spo_wt, enspm_start_spo_m, enspm_start_nuc_wt, enspm_start_nuc_m),
          (enspm_end_spo_wt, enspm_end_spo_m, enspm_end_nuc_wt, enspm_end_nuc_m),
          (enspm_rand_spo_wt, enspm_rand_spo_m, enspm_rand_nuc_wt, enspm_rand_nuc_m)],
         29, 457.5, False)
meta_row(*EX, *ROW2, 'Gypsy LTR', 175,
         [(gypsy_start_spo_wt, gypsy_start_spo_m, gypsy_start_nuc_wt, gypsy_start_nuc_m),
          (gypsy_end_spo_wt, gypsy_end_spo_m, gypsy_end_nuc_wt, gypsy_end_nuc_m),
          (gypsy_rand_spo_wt, gypsy_rand_spo_m, gypsy_rand_nuc_wt, gypsy_rand_nuc_m)],
         29, 457.5, True)
meta_row(*FX, *ROW1, 'LINE L1', 658.7,
         [(line_start_spo_wt, line_start_spo_m, line_start_nuc_wt, line_start_nuc_m),
          (line_end_spo_wt, line_end_spo_m, line_end_nuc_wt, line_end_nuc_m),
          (line_rand_spo_wt, line_rand_spo_m, line_rand_nuc_wt, line_rand_nuc_m)],
         508.5, 945, False)
meta_row(*FX, *ROW2, 'SINE', 662.7,
         [(sine_start_spo_wt, sine_start_spo_m, sine_start_nuc_wt, sine_start_nuc_m),
          (sine_end_spo_wt, sine_end_spo_m, sine_end_nuc_wt, sine_end_nuc_m),
          (sine_rand_spo_wt, sine_rand_spo_m, sine_rand_nuc_wt, sine_rand_nuc_m)],
         508.5, 945, True)

# ---- panel letters ----
for s, x, y in [('A', 10, 15), ('B', 488, 15), ('C', 15, 382), ('D', 502, 382), ('E', 30, 903), ('F', 509, 900)]:
    ftext(x, y, s, fontsize=15, fontweight='bold', ha='center', va='center')

# ---- legend ----
LEG_FS = 9.5
ftext(301, 1257, 'SPO11-1-oligos Wild type', color=BLACK, ha='left', va='center', fontsize=LEG_FS)
rich(301, 1271, [('SPO11-1-oligos', 'normal', RED), (' ', '', ''), ('met1', 'italic', RED)], fs=LEG_FS)
ftext(499, 1257, 'Nucleosomes Wild type', color=GREEN, ha='left', va='center', fontsize=LEG_FS)
rich(499, 1271, [('Nucleosomes', 'normal', BLUE), (' ', '', ''), ('met1', 'italic', BLUE)], fs=LEG_FS)
for x0, x1, y, c in [(459, 485, 1257, BLACK), (459, 485, 1271, RED),
                     (643, 669, 1257, GREEN), (643, 669, 1271, BLUE)]:
    fig.add_artist(Line2D([x0 / W, x1 / W], [1 - y / H, 1 - y / H], color=c, lw=1.2,
                          transform=fig.transFigure))

fig.savefig('out.png', dpi=100)
